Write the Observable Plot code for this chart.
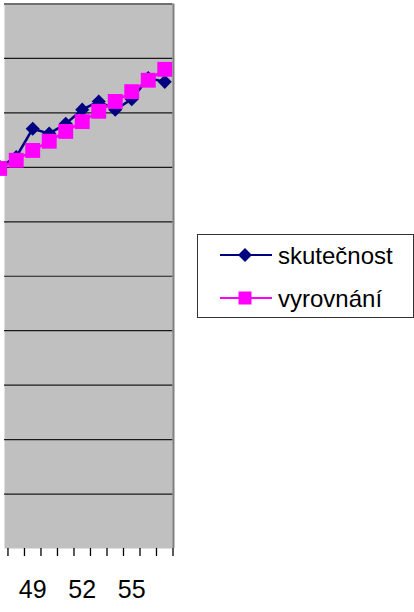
<!DOCTYPE html>
<html>
<head>
<meta charset="utf-8">
<script src="https://cdn.jsdelivr.net/npm/d3@7"></script>
<script src="https://cdn.jsdelivr.net/npm/@observablehq/plot@0.6"></script>
<style>
  html, body { margin: 0; padding: 0; background: white; }
  #wrap { position: relative; width: 414px; height: 612px; overflow: hidden; }
  #legend { position: absolute; left: 197px; top: 234px; width: 215px; height: 82px;
            border: 1px solid #333; background: white; }
</style>
</head>
<body>
<div id="wrap"></div>
<script>
const categories = [47, 48, 49, 50, 51, 52, 53, 54, 55, 56, 57];
const skutecnost = [70.1, 71.9, 77.1, 76.2, 78.0, 80.6, 82.1, 80.6, 82.5, 86.4, 85.7];
const vyrovnani  = [69.8, 71.3, 73.1, 74.8, 76.6, 78.4, 80.3, 82.1, 83.9, 86.0, 88.0];
const tickLabels = [49, 52, 55];
const gridValues = [10, 20, 30, 40, 50, 60, 70, 80, 90];
const seriesNames = ["skutečnost", "vyrovnání"];

const data = categories.map((c, i) => ({c, s: skutecnost[i], v: vyrovnani[i]}));
const boundaries = categories.map(c => c + 0.5);

const chart = Plot.plot({
  width: 414,
  height: 612,
  marginTop: 3.5,
  marginBottom: 64,
  marginLeft: 4,
  marginRight: 241.5,
  x: {domain: [47.29, 57.5], axis: null},
  y: {domain: [0, 100], axis: null},
  style: {fontFamily: "'Liberation Sans', Arial, sans-serif", background: "white", overflow: "visible", color: "black"},
  marks: [
    Plot.frame({fill: "#c0c0c0", stroke: null}),
    Plot.ruleY(gridValues, {stroke: "#1a1a1a", strokeWidth: 1.2}),
    Plot.ruleY([100], {stroke: "#707070", strokeWidth: 2}),
    Plot.ruleX([57.5], {stroke: "#808080", strokeWidth: 2, dx: 0.5}),
    Plot.axisX({ticks: boundaries, tickSize: 8, text: null, label: null, stroke: "black", strokeWidth: 1.3}),
    Plot.axisX({ticks: tickLabels, tickSize: 0, tickPadding: 32, fontSize: 25, fill: "black", label: null, tickFormat: d => String(d)}),
    Plot.line(data, {x: "c", y: "s", stroke: "#000080", strokeWidth: 2.5}),
    Plot.dot(data, {x: "c", y: "s", symbol: "square", rotate: 45, r: 5.6, fill: "#000080", stroke: null}),
    Plot.line(data, {x: "c", y: "v", stroke: "#ff00ff", strokeWidth: 2.5}),
    Plot.dot(data, {x: "c", y: "v", symbol: "square", r: 8.4, fill: "#ff00ff", stroke: null})
  ]
});
document.getElementById("wrap").appendChild(chart);

// legend
const legend = document.createElement("div");
legend.id = "legend";
const lsvg = d3.create("svg").attr("width", 215).attr("height", 82)
  .style("font-family", "'Liberation Sans', Arial, sans-serif");
const items = [
  {name: seriesNames[0], color: "#000080", shape: "diamond"},
  {name: seriesNames[1], color: "#ff00ff", shape: "square"}
];
items.forEach((it, i) => {
  const y = 20 + i * 43;
  const g = lsvg.append("g").attr("transform", `translate(0,${y})`);
  g.append("line").attr("x1", 22).attr("x2", 74).attr("y1", 0).attr("y2", 0)
    .attr("stroke", it.color).attr("stroke-width", 2);
  if (it.shape === "diamond") {
    g.append("path").attr("d", "M47,-7L54,0L47,7L40,0Z").attr("fill", it.color);
  } else {
    g.append("rect").attr("x", 40.5).attr("y", -6.5).attr("width", 13).attr("height", 13).attr("fill", it.color);
  }
  g.append("text").attr("x", 80).attr("y", 9).attr("font-size", 24).attr("fill", "black").text(it.name);
});
legend.appendChild(lsvg.node());
document.getElementById("wrap").appendChild(legend);
</script>
</body>
</html>
